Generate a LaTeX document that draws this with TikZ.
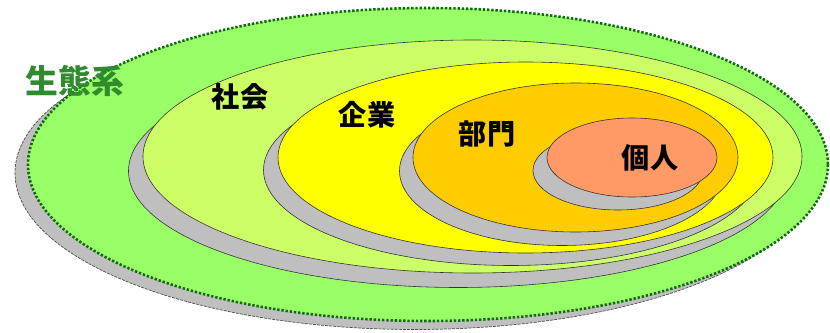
\documentclass[tikz,border=0pt]{standalone}
\usepackage{fontspec}
\newfontfamily\cjk{Noto Sans CJK JP}
\definecolor{ecoG}{HTML}{99FF66}
\definecolor{socG}{HTML}{CCFF66}
\definecolor{entY}{HTML}{FFFF00}
\definecolor{depO}{HTML}{FFCC00}
\definecolor{indO}{HTML}{FF9966}
\definecolor{shadowG}{HTML}{BFBFBF}
\definecolor{ecoLine}{HTML}{106A10}
\definecolor{ecoText}{HTML}{2E8B2E}
\tikzset{
  ring/.style={draw=black!80, line width=0.5pt},
  shade/.style={fill=shadowG, draw=black!80, line width=0.5pt},
  lbl/.style={font=\cjk\bfseries\fontsize{24}{24}\selectfont, inner sep=0pt, text=black},
}
\begin{document}
\begin{tikzpicture}[x=0.03cm, y=-0.03cm]
\useasboundingbox (0,0) rectangle (830,333);
% ecosystem
\fill[shadowG, draw=black!70, line width=0.6pt, dash pattern=on 2.5pt off 1pt] (415,173) ellipse [x radius=400, y radius=156.5];
\fill[ecoG] (428,164.5) ellipse [x radius=400, y radius=156.5];
\draw[ecoLine, line width=2.2pt, dash pattern=on 2pt off 1.6pt] (428,164.5) ellipse [x radius=400, y radius=156.5];
% society
\draw[shade] (458,171) ellipse [x radius=329.5, y radius=116.5];
\draw[ring, fill=socG] (472.5,156.5) ellipse [x radius=329.5, y radius=116.5];
% enterprise
\draw[shade] (511,170) ellipse [x radius=247.5, y radius=95.5];
\draw[ring, fill=entY] (525.5,157.5) ellipse [x radius=247.5, y radius=95.5];
% department
\draw[shade] (562,171) ellipse [x radius=162.5, y radius=74.5];
\draw[ring, fill=depO] (575.5,157.5) ellipse [x radius=162.5, y radius=74.5];
% individual
\draw[shade] (618,170.5) ellipse [x radius=85, y radius=39.5];
\draw[ring, fill=indO] (632,157.5) ellipse [x radius=85, y radius=39.5];
% labels
\node[lbl, text=ecoText, font=\cjk\bfseries\fontsize{28}{28}\selectfont] (eco) at (75,81) {生態系};
\node[lbl] (soc) at (240,97) {社会};
\node[lbl] (ent) at (367,115) {企業};
\node[lbl] (dep) at (487,134) {部門};
\node[lbl] (ind) at (650,158) {個人};
\end{tikzpicture}
\end{document}
